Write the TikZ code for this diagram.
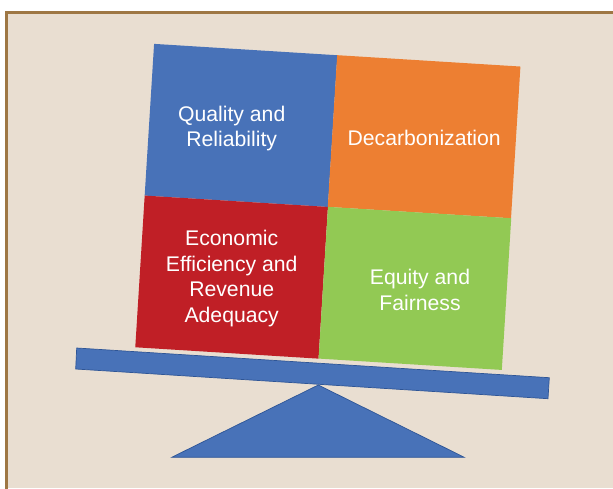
\documentclass[tikz,border=0pt]{standalone}
\usepackage{fontspec}
\setmainfont{Liberation Sans}
\definecolor{paper}{HTML}{E9DED1}
\definecolor{frame}{HTML}{9E7744}
\definecolor{qblue}{HTML}{4872B8}
\definecolor{qorange}{HTML}{ED7F32}
\definecolor{qred}{HTML}{C01F26}
\definecolor{qgreen}{HTML}{92C954}
\definecolor{edgeblue}{HTML}{2E5596}
\begin{document}
\begin{tikzpicture}[x=1pt,y=-1pt,
  cell/.style={rectangle,inner sep=0pt,minimum width=183.6pt,minimum height=152pt,rotate=-3.55,draw=none},
  label/.style={text=white,align=center,font=\fontsize{21.2}{25.5}\selectfont,inner sep=0pt},
  blueshape/.style={fill=qblue,draw=edgeblue,line width=0.7pt,line join=miter}]
\useasboundingbox (0,0) rectangle (613,488);
\fill[white] (0,0) rectangle (613,488);
% framed panel
\fill[paper] (6.5,12.5) rectangle (613,488);
\draw[frame,line width=3pt] (6.5,490) -- (6.5,12.5) -- (615,12.5);

% the four tiles of the balanced block
\node[cell,fill=qblue]   (qr) at (241.0,125.4) {};
\node[cell,fill=qorange] (dc) at (424.1,136.7) {};
\node[cell,fill=qred]    (ee) at (231.6,277.1) {};
\node[cell,fill=qgreen]  (ef) at (414.9,288.4) {};

\node[label] (qrt) at (231.7,128.5) {Quality and\\Reliability};
\node[label] (dct) at (424.2,137.8) {Decarbonization};
\node[label] (eet) at (231.7,278.5) {Economic\\Efficiency and\\Revenue\\Adequacy};
\node[label] (eft) at (420.0,290.0) {Equity and\\Fairness};

% tilted beam
\draw[blueshape] (76.7,348) -- (549.3,377.7) -- (548,398.7) -- (75.7,369) -- cycle;
% fulcrum
\draw[blueshape] (318.3,385) -- (464.3,457.3) -- (171.7,457.3) -- cycle;
\end{tikzpicture}
\end{document}
